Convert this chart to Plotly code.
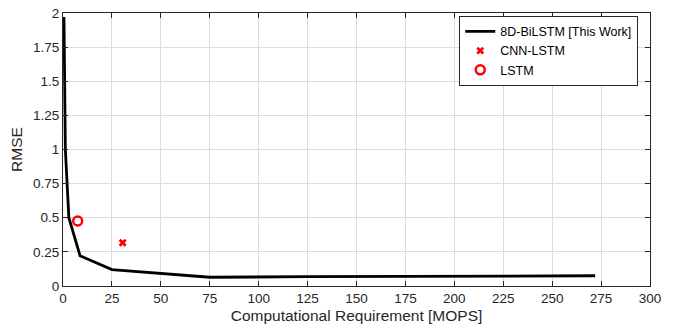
import plotly.graph_objects as go

# RMSE vs. computational cost of the 8D-BiLSTM sweep, with two baselines
bilstm_mops = [0.5, 1.2, 3.0, 8.7, 25.0, 75.0, 125.0, 210.0, 272.0]
bilstm_rmse = [1.97, 1.0, 0.50, 0.222, 0.12, 0.064, 0.068, 0.075, 0.075]

cnn_lstm_mops = [30.5]
cnn_lstm_rmse = [0.317]

lstm_mops = [7.5]
lstm_rmse = [0.476]

x_ticks = list(range(0, 301, 25))
y_ticks = [0, 0.25, 0.5, 0.75, 1, 1.25, 1.5, 1.75, 2]
y_tick_text = ["0", "0.25", "0.5", "0.75", "1", "1.25", "1.5", "1.75", "2"]

fig = go.Figure()
fig.add_trace(go.Scatter(
    x=bilstm_mops, y=bilstm_rmse, mode="lines",
    line=dict(color="black", width=2.8),
    name="8D-BiLSTM [This Work]",
))
fig.add_trace(go.Scatter(
    x=cnn_lstm_mops, y=cnn_lstm_rmse, mode="markers",
    marker=dict(symbol="x", color="#ff0000", size=7),
    name="CNN-LSTM",
))
fig.add_trace(go.Scatter(
    x=lstm_mops, y=lstm_rmse, mode="markers",
    marker=dict(symbol="circle-open", color="#ff0000", size=9,
                line=dict(width=2.5, color="#ff0000")),
    name="LSTM",
))

axis_common = dict(
    showline=True, linecolor="#262626", linewidth=1.2, mirror="ticks",
    ticks="inside", ticklen=5, tickcolor="#262626", tickwidth=1,
    showgrid=True, gridcolor="#dcdcdc", gridwidth=1,
    zeroline=False, automargin=False,
    tickfont=dict(family="Liberation Sans, Arial", size=13.5, color="#262626"),
)

fig.update_layout(
    width=679, height=332,
    margin=dict(l=63, r=29, t=13, b=46),
    plot_bgcolor="white", paper_bgcolor="white",
    font=dict(family="Liberation Sans, Arial", size=13, color="#262626"),
    xaxis=dict(range=[0, 300], tickvals=x_ticks,
               title=dict(text="Computational Requirement [MOPS]",
                          font=dict(size=15.5), standoff=4),
               **axis_common),
    yaxis=dict(range=[0, 2], tickvals=y_ticks, ticktext=y_tick_text,
               title=dict(text="RMSE", font=dict(size=15.5), standoff=6),
               **axis_common),
    legend=dict(
        x=0.98, y=0.99, xanchor="right", yanchor="top",
        bgcolor="white", bordercolor="#262626", borderwidth=1,
        font=dict(size=12.5, color="black"),
        tracegroupgap=0, itemwidth=30,
    ),
    showlegend=True,
)

fig.write_html("out.html")
